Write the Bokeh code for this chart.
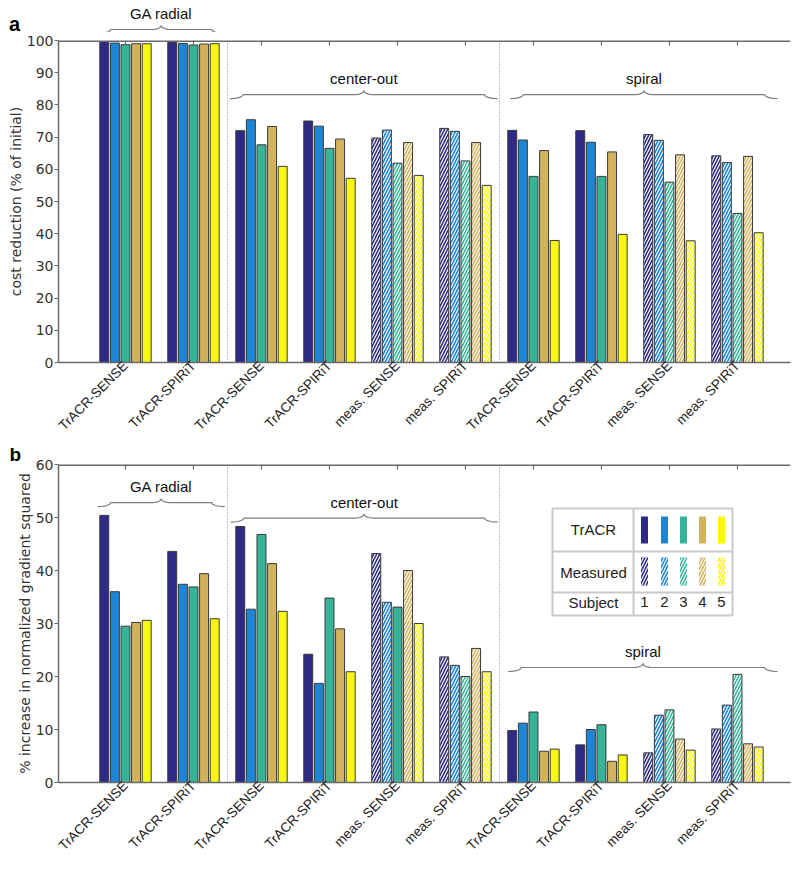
import numpy as np
from math import pi
from bokeh.plotting import figure
from bokeh.models import Range1d, FixedTicker, Span, Label, Div
from bokeh.layouts import column, row
from bokeh.embed import file_html
from bokeh.resources import INLINE

# ---------------- data ----------------
methods = ["TrACR-SENSE", "TrACR-SPIRiT",
           "TrACR-SENSE", "TrACR-SPIRiT", "meas. SENSE", "meas. SPIRiT",
           "TrACR-SENSE", "TrACR-SPIRiT", "meas. SENSE", "meas. SPIRiT"]
measured = [False, False, False, False, True, True, False, False, True, True]
trajectories = ["GA radial", "center-out", "spiral"]
subjects = ["1", "2", "3", "4", "5"]
colors = ["#2e2a85", "#1c85d6", "#37b39a", "#d2b25c", "#f7f711"]

cost_s1 = [99.7, 99.5, 72.0, 75.0, 69.7, 72.7, 72.1, 72.0, 70.8, 64.2]
cost_s2 = [99.2, 99.1, 75.4, 73.4, 72.2, 71.8, 69.1, 68.4, 69.0, 62.1]
cost_s3 = [98.7, 98.6, 67.6, 66.5, 61.9, 62.6, 57.8, 57.8, 56.0, 46.3]
cost_s4 = [99.0, 98.9, 73.3, 69.4, 68.3, 68.3, 65.8, 65.4, 64.5, 64.0]
cost_s5 = [99.0, 99.0, 60.9, 57.2, 58.1, 55.0, 37.9, 39.8, 37.8, 40.3]

grad_s1 = [50.4, 43.6, 48.3, 24.2, 43.2, 23.7, 9.8, 7.1, 5.6, 10.1]
grad_s2 = [36.0, 37.4, 32.7, 18.7, 34.0, 22.1, 11.2, 10.0, 12.7, 14.6]
grad_s3 = [29.5, 36.9, 46.8, 34.8, 33.1, 20.0, 13.3, 10.9, 13.7, 20.4]
grad_s4 = [30.2, 39.4, 41.3, 29.0, 40.0, 25.3, 5.9, 4.0, 8.2, 7.3]
grad_s5 = [30.6, 30.9, 32.3, 20.9, 30.0, 20.9, 6.3, 5.2, 6.1, 6.7]

# ---------------- layout constants ----------------
X0, X1 = 0.015, 10.78
FW = 732
LB, RB = 58, 4
PITCH = 0.156
BW = 0.132
AXC = "#6a6a6a"
BRACE_C = "#7d7d7d"
FONT = "Liberation Sans"
NFONT = "DejaVu Sans"
HATCH = dict(hatch_pattern="/", hatch_color="white", hatch_scale=6, hatch_weight=1.2)
group_x = np.arange(1, len(methods) + 1)
boundaries = [2.5, 6.5]
SX = FW / (X1 - X0)


def brace_pts(x0, x1, yb, sy, h_px=4.0, e_px=13.0, c_px=9.0):
    h = h_px / sy
    e = e_px / SX
    c = c_px / SX
    xm = (x0 + x1) / 2
    th = np.linspace(0, pi / 2, 7)
    lx = x0 + e * np.sin(th)
    ly = yb - h * np.cos(th)
    cx = xm - c + c * np.sin(th)
    cy = yb + h * (1 - np.cos(th))
    lxs = np.r_[lx, cx]
    lys = np.r_[ly, cy]
    xs = np.r_[lxs, (2 * xm - lxs)[::-1]]
    ys = np.r_[lys, lys[::-1]]
    return xs, ys


def add_brace(p, x0, x1, yb, name, sy):
    bx, by = brace_pts(x0, x1, yb, sy)
    p.line(bx, by, line_color=BRACE_C, line_width=1.2)
    p.add_layout(Label(x=(x0 + x1) / 2, y=yb + 16 / sy, text=name,
                       text_align="center", text_baseline="middle",
                       text_font=FONT, text_font_size="15px",
                       text_color="#111111"))


def make_panel(series, ymax, ylabel, frame_h, braces, solid_exceptions=(),
               title=None, top_border=8):
    p = figure(frame_width=FW, frame_height=frame_h, title=title,
               x_range=Range1d(X0, X1), y_range=Range1d(0, ymax),
               output_backend="svg", toolbar_location=None,
               min_border_left=LB, min_border_right=RB,
               min_border_top=top_border, min_border_bottom=10,
               background_fill_color="white", border_fill_color="white")
    p.outline_line_color = None
    p.xgrid.visible = False
    p.ygrid.visible = False
    sy = frame_h / ymax

    # bars
    for k, vals in enumerate(series):
        xs = group_x + (k - 2) * PITCH
        solid_x, solid_t, hat_x, hat_t = [], [], [], []
        for i, v in enumerate(vals):
            if measured[i] and (i, k) not in solid_exceptions:
                hat_x.append(xs[i]); hat_t.append(v)
            else:
                solid_x.append(xs[i]); solid_t.append(v)
        p.vbar(x=solid_x, top=solid_t, bottom=0, width=BW,
               fill_color=colors[k], line_color="#3a3a3a", line_width=1)
        if hat_x:
            p.vbar(x=hat_x, top=hat_t, bottom=0, width=BW,
                   fill_color=colors[k], line_color="#3a3a3a", line_width=1,
                   **HATCH)

    # dotted separators
    for b in boundaries:
        p.add_layout(Span(location=b, dimension="height", line_color="#888888",
                          line_dash="1 2", line_width=1))

    # top box line with inward ticks
    p.line([X0, X1], [ymax, ymax], line_color=AXC, line_width=3)
    p.segment(x0=group_x, y0=[ymax] * len(group_x), x1=group_x,
              y1=[ymax - 5 / sy] * len(group_x), line_color=AXC, line_width=1.2)

    for (x0, x1, yb, name) in braces:
        add_brace(p, x0, x1, yb, name, sy)

    # axes
    p.xaxis.ticker = FixedTicker(ticks=list(group_x))
    p.xaxis.major_label_overrides = {int(g): m for g, m in zip(group_x, methods)}
    p.xaxis.major_label_orientation = pi / 4
    p.xaxis.major_label_text_font = FONT
    p.xaxis.major_label_text_font_size = "13.5px"
    p.xaxis.major_label_text_color = "#222222"
    p.xaxis.major_label_standoff = 1
    p.xaxis.major_tick_in = 0
    p.xaxis.major_tick_out = 0
    p.xaxis.minor_tick_line_color = None
    p.xaxis.axis_line_color = AXC
    p.xaxis.axis_line_width = 1.5

    p.yaxis.ticker = FixedTicker(ticks=list(range(0, ymax + 1, 10)))
    p.yaxis.major_label_text_font = NFONT
    p.yaxis.major_label_text_font_size = "14px"
    p.yaxis.major_label_text_color = "#333333"
    p.yaxis.major_label_standoff = 1
    p.yaxis.major_tick_in = 0
    p.yaxis.major_tick_out = 4
    p.yaxis.major_tick_line_color = AXC
    p.yaxis.minor_tick_line_color = None
    p.yaxis.axis_line_color = AXC
    p.yaxis.axis_line_width = 1.5
    p.yaxis.axis_label = ylabel
    p.yaxis.axis_label_text_font = NFONT
    p.yaxis.axis_label_text_font_style = "normal"
    p.yaxis.axis_label_text_font_size = "14px"
    p.yaxis.axis_label_text_color = "#333333"
    p.yaxis.axis_label_standoff = 0
    return p, sy


cost_series = [cost_s1, cost_s2, cost_s3, cost_s4, cost_s5]
grad_series = [grad_s1, grad_s2, grad_s3, grad_s4, grad_s5]

p1, sy1 = make_panel(
    cost_series, 100, "cost reduction (% of initial)", 322,
    [(2.54, 6.47, 83.2, trajectories[1]),
     (6.66, 10.59, 83.2, trajectories[2])])

p2, sy2 = make_panel(
    grad_series, 60, "% increase in normalized gradient squared", 318,
    [(0.59, 2.46, 52.8, trajectories[0]),
     (2.55, 6.47, 49.9, trajectories[1]),
     (6.63, 10.59, 21.7, trajectories[2])],
    solid_exceptions=[(4, 2)], title="b", top_border=0)
p2.title.align = "left"
p2.title.offset = -49
p2.title.standoff = 0
p2.title.text_font = FONT
p2.title.text_font_size = "19px"
p2.title.text_font_style = "bold"
p2.title.text_line_height = 0.85
p2.title.text_color = "#000000"

# ---------------- header strip above panel a (GA radial brace) ----------------
HH = 32
TOPGAP = 8   # p1 top border (px)
h1 = figure(frame_width=FW, frame_height=HH, title=None,
            x_range=Range1d(X0, X1),
            y_range=Range1d(100 + TOPGAP / sy1, 100 + (TOPGAP + HH) / sy1),
            x_axis_location=None, y_axis_location=None,
            output_backend="svg", toolbar_location=None, min_border=0,
            min_border_left=0, min_border_right=RB,
            background_fill_color="white", border_fill_color="white")
h1.outline_line_color = None
h1.grid.visible = False
add_brace(h1, 0.59, 2.46, 100 + 11 / sy1, trajectories[0], sy1)

letter_a = Div(text="a", width=LB, height=HH, margin=0,
               styles={"font-family": "Liberation Sans", "font-weight": "bold",
                       "font-size": "20px", "line-height": "20px",
                       "color": "#000000"},
               stylesheets=[":host { padding: 14px 0 0 9px; box-sizing: border-box; }"])

layout = column(row(letter_a, h1), p1, p2)

# ---------------- legend table (bottom panel) ----------------
ax0, ay0 = 7.28, 51.7   # top-left anchor (data units)


def LX(px):
    return ax0 + px / SX


def LY(py):
    return ay0 - py / sy2


p2.quad(left=[LX(0)], right=[LX(180)], top=[LY(0)], bottom=[LY(107)],
        fill_color="white", line_color="#c9c9c9", line_width=2)
for yy in [43, 84]:
    p2.line([LX(0), LX(180)], [LY(yy), LY(yy)], line_color="#c9c9c9", line_width=2)
p2.line([LX(81), LX(81)], [LY(0), LY(107)], line_color="#c9c9c9", line_width=2)

sw_px = [92, 112, 131, 150, 169]
for k, c in enumerate(colors):
    cx = sw_px[k]
    p2.quad(left=[LX(cx - 3.5)], right=[LX(cx + 3.5)], top=[LY(8)], bottom=[LY(35)],
            fill_color=c, line_color=None)
    p2.quad(left=[LX(cx - 3.5)], right=[LX(cx + 3.5)], top=[LY(49)], bottom=[LY(77)],
            fill_color=c, line_color=None, **HATCH)
    p2.add_layout(Label(x=LX(cx), y=LY(94), text=subjects[k], text_align="center",
                        text_baseline="middle", text_font=FONT,
                        text_font_size="15px", text_color="#222222"))

for txt, yy in [("TrACR", 21), ("Measured", 64), ("Subject", 94)]:
    p2.add_layout(Label(x=LX(41), y=LY(yy), text=txt, text_align="center",
                        text_baseline="middle", text_font=FONT,
                        text_font_size="15px", text_color="#222222"))

open("out.html", "w").write(file_html(layout, INLINE))
